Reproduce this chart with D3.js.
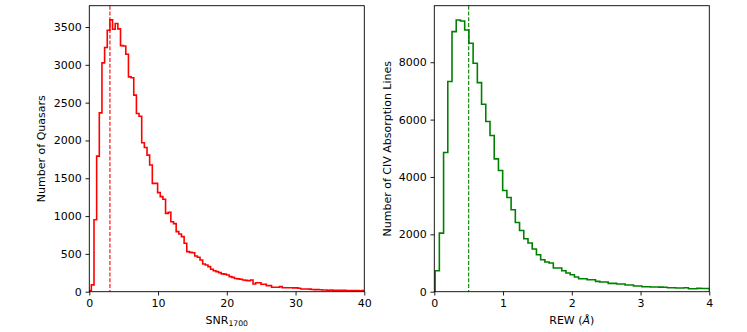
<!DOCTYPE html>
<html>
<head>
<meta charset="utf-8">
<script src="https://cdn.jsdelivr.net/npm/d3@7"></script>
<style>
  html, body { margin: 0; padding: 0; background: #fff; }
  svg { display: block; }
  text { font-family: "DejaVu Sans", sans-serif; fill: #000; }
</style>
</head>
<body>
<svg id="chart" width="747" height="332"></svg>
<script>
// ---------- data ----------
// Left panel: SNR_1700 histogram (bins of equal width starting at snrBinStart)
const snrBinStart = -0.087;
const snrBinWidth = 0.3855;
const snrCounts = [
  15, 90, 951, 1793, 2365, 3026, 3229, 3458, 3594, 3471,
  3546, 3475, 3254, 3250, 3140, 2841, 2830, 2599, 2357, 2321,
  1969, 1907, 1806, 1676, 1433, 1433, 1310, 1257, 1222, 1036,
  1049, 926, 900, 794, 763, 728, 640, 530, 520, 516,
  472, 455, 419, 366, 353, 331, 296, 278, 265, 252,
  236, 232, 221, 199, 190, 174, 170, 164, 155, 150,
  145, 154, 101, 119, 119, 98, 98, 80, 80, 58,
  58, 58, 67, 53, 53, 53, 53, 50, 50, 45,
  36, 36, 36, 34, 30, 27, 27, 25, 22, 22,
  20, 22, 18, 20, 18, 17, 18, 16, 15, 16,
  14, 15, 13, 14, 12
];
const snrMarker = 3;
const snrXTicks = [0, 10, 20, 30, 40];
const snrYTicks = [0, 500, 1000, 1500, 2000, 2500, 3000, 3500];

// Right panel: REW histogram
const rewBinStart = 0.012;
const rewBinWidth = 0.0614;
const rewCounts = [
  731, 2043, 4853, 7326, 9067, 9474, 9439, 9125, 8660, 7965,
  7290, 6536, 5932, 5444, 4632, 4225, 3528, 3285, 2856, 2414,
  2135, 1846, 1696, 1487, 1289, 1115, 1034, 1000, 825, 825,
  733, 650, 592, 511, 453, 453, 418, 418, 360, 337,
  337, 290, 290, 267, 267, 232, 232, 197, 197, 174,
  174, 165, 163, 160, 155, 139, 139, 128, 128, 140,
  104, 104, 116, 112, 110
];
const rewMarker = 0.5;
const rewXTicks = [0, 1, 2, 3, 4];
const rewYTicks = [0, 2000, 4000, 6000, 8000];

// ---------- layout ----------
const svg = d3.select("#chart");
const plotTop = 5.7, plotBottom = 291.7;
const FS = 11;

function stepPoints(start, width, counts) {
  const pts = [[start, 0]];
  counts.forEach((c, i) => {
    pts.push([start + i * width, c]);
    pts.push([start + (i + 1) * width, c]);
  });
  pts.push([start + counts.length * width, 0]);
  return pts;
}

function panel(opts) {
  const x = d3.scaleLinear().domain(opts.xDomain).range([opts.left, opts.right]);
  const y = d3.scaleLinear().domain(opts.yDomain).range([plotBottom, plotTop]);
  const g = svg.append("g");

  const clipId = "clip" + opts.id;
  svg.append("clipPath").attr("id", clipId)
    .append("rect").attr("x", opts.left).attr("y", plotTop)
    .attr("width", opts.right - opts.left).attr("height", plotBottom - plotTop);

  const pts = stepPoints(opts.binStart, opts.binWidth, opts.counts);
  const line = d3.line().x(d => x(d[0])).y(d => y(d[1]));
  g.append("path")
    .attr("clip-path", `url(#${clipId})`)
    .attr("d", line(pts))
    .attr("fill", "none")
    .attr("stroke", opts.color)
    .attr("stroke-width", 1.6)
    .attr("stroke-linejoin", "miter");

  g.append("line")
    .attr("x1", x(opts.marker)).attr("x2", x(opts.marker))
    .attr("y1", plotTop).attr("y2", plotBottom)
    .attr("stroke", opts.color)
    .attr("stroke-width", 1.1)
    .attr("stroke-dasharray", "4,1.8");

  const xAxis = d3.axisBottom(x).tickValues(opts.xTicks).tickSize(3.8).tickPadding(3.8)
    .tickFormat(d3.format("d"));
  const yAxis = d3.axisLeft(y).tickValues(opts.yTicks).tickSize(3.8).tickPadding(3.8)
    .tickFormat(d3.format("d"));

  const gx = g.append("g").attr("transform", `translate(0,${plotBottom})`).call(xAxis);
  const gy = g.append("g").attr("transform", `translate(${opts.left},0)`).call(yAxis);
  [gx, gy].forEach(a => {
    a.select(".domain").remove();
    a.selectAll(".tick line").attr("stroke", "#000").attr("stroke-width", 0.9);
    a.selectAll(".tick text").attr("font-size", FS).attr("font-family", "DejaVu Sans").attr("fill", "#000");
  });

  g.append("rect")
    .attr("x", opts.left).attr("y", plotTop)
    .attr("width", opts.right - opts.left).attr("height", plotBottom - plotTop)
    .attr("fill", "none").attr("stroke", "#000").attr("stroke-width", 0.9);

  g.append("text")
    .attr("transform", `translate(${opts.yLabelX},${(plotTop + plotBottom) / 2}) rotate(-90)`)
    .attr("text-anchor", "middle")
    .attr("font-size", FS)
    .text(opts.yLabel);

  const xl = g.append("text")
    .attr("x", (opts.left + opts.right) / 2)
    .attr("y", 324)
    .attr("text-anchor", "middle")
    .attr("font-size", FS);
  opts.xLabel(xl);
}

panel({
  id: "L", left: 89.3, right: 364.3,
  xDomain: [0, 40], yDomain: [0, 3782],
  binStart: snrBinStart, binWidth: snrBinWidth, counts: snrCounts,
  marker: snrMarker, color: "#ff0000",
  xTicks: snrXTicks, yTicks: snrYTicks,
  yLabelX: 44.5, yLabel: "Number of Quasars",
  xLabel: t => {
    t.append("tspan").text("SNR");
    t.append("tspan").attr("font-size", 7.7).attr("dy", 2).text("1700");
  }
});

panel({
  id: "R", left: 434.3, right: 709.3,
  xDomain: [0, 4], yDomain: [0, 9971],
  binStart: rewBinStart, binWidth: rewBinWidth, counts: rewCounts,
  marker: rewMarker, color: "#008000",
  xTicks: rewXTicks, yTicks: rewYTicks,
  yLabelX: 391, yLabel: "Number of CIV Absorption Lines",
  xLabel: t => {
    t.append("tspan").text("REW (");
    t.append("tspan").attr("font-style", "italic").text("Å");
    t.append("tspan").text(")");
  }
});
</script>
</body>
</html>
